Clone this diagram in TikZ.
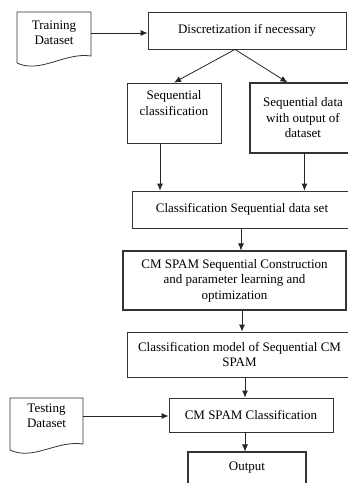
\documentclass[tikz,border=0pt]{standalone}
\usepackage{fontspec}
\setmainfont{Liberation Serif}
\usetikzlibrary{arrows.meta}
\begin{document}
\begin{tikzpicture}[x=1pt,y=-1pt,
  txt/.style={font=\fontsize{13}{15.5}\selectfont, text=black, align=center},
  box/.style={txt, draw=black!80, line width=0.8pt, inner sep=2pt},
  heavy/.style={box, line width=1.05pt},
  doclabel/.style={txt, inner sep=0pt},
  docshape/.style={draw=black!80, line width=0.8pt},
  arr/.style={draw=black!85, line width=0.8pt, -{Latex[length=7pt,width=6pt]}}]
\useasboundingbox (0,0) rectangle (348,483);
\clip (0,0) rectangle (348,483);

% input data sets (document shapes)
\draw[docshape] (17,63) -- (17,12) -- (91,12) -- (91,56)
  .. controls (65,52) and (40,74) .. (17,63);
\node[doclabel, minimum width=74pt] (train) at (54,33) {Training\\Dataset};

\draw[docshape] (10,450) -- (10,398) -- (83,398) -- (83,444)
  .. controls (57,440) and (33,461) .. (10,450);
\node[doclabel, minimum width=73pt] (test) at (46.5,416) {Testing\\Dataset};

% processing steps
\node[box, minimum width=198pt, minimum height=37pt] (disc) at (247,30.5) {Discretization if necessary};
\node[box, minimum width=94pt, minimum height=60pt] (seqc) at (174,113) {Sequential\\classification\\\strut};
\node[heavy, minimum width=106pt, minimum height=70pt] (seqd) at (303,118) {Sequential data\\with output of\\dataset};
\node[box, minimum width=220pt, minimum height=37pt] (csds) at (242,209.5) {Classification Sequential data set};
\node[heavy, minimum width=223pt, minimum height=59pt] (cmspam) at (234.5,280.5) {CM SPAM Sequential Construction\\and parameter learning and\\optimization};
\node[box, minimum width=225pt, minimum height=45pt] (cmodel) at (239.5,354.5) {Classification model of Sequential CM\\SPAM};
\node[box, minimum width=164pt, minimum height=34pt] (cmsc) at (251,415) {CM SPAM Classification};
\node[heavy, minimum width=118pt, minimum height=32pt] (out) at (247,468) {Output};

% connector end points
\coordinate (split) at ([xshift=-12pt]disc.south);
\coordinate (sdtop) at ([xshift=38pt]seqd.north west);
\coordinate (scbot) at ([xshift=-14pt]seqc.south);
\coordinate (sdbot) at ([xshift=55pt]seqd.south west);
\coordinate (csbot) at ([xshift=-1pt]csds.south);
\coordinate (cmbot) at ([xshift=7.5pt]cmspam.south);
\coordinate (mdbot) at ([xshift=5.5pt]cmodel.south);
\coordinate (clbot) at ([xshift=-6pt]cmsc.south);

% connectors
\draw[arr] (train.east) -- (train.east -| disc.west);
\draw[arr] (split) -- (seqc.north);
\draw[arr] (split) -- (sdtop);
\draw[arr] (scbot) -- (scbot |- csds.north);
\draw[arr] (sdbot) -- (sdbot |- csds.north);
\draw[arr] (csbot) -- (csbot |- cmspam.north);
\draw[arr] (cmbot) -- (cmbot |- cmodel.north);
\draw[arr] (mdbot) -- (mdbot |- cmsc.north);
\draw[arr] (test.east) -- (test.east -| cmsc.west);
\draw[arr] (clbot) -- (clbot |- out.north);
\end{tikzpicture}
\end{document}
